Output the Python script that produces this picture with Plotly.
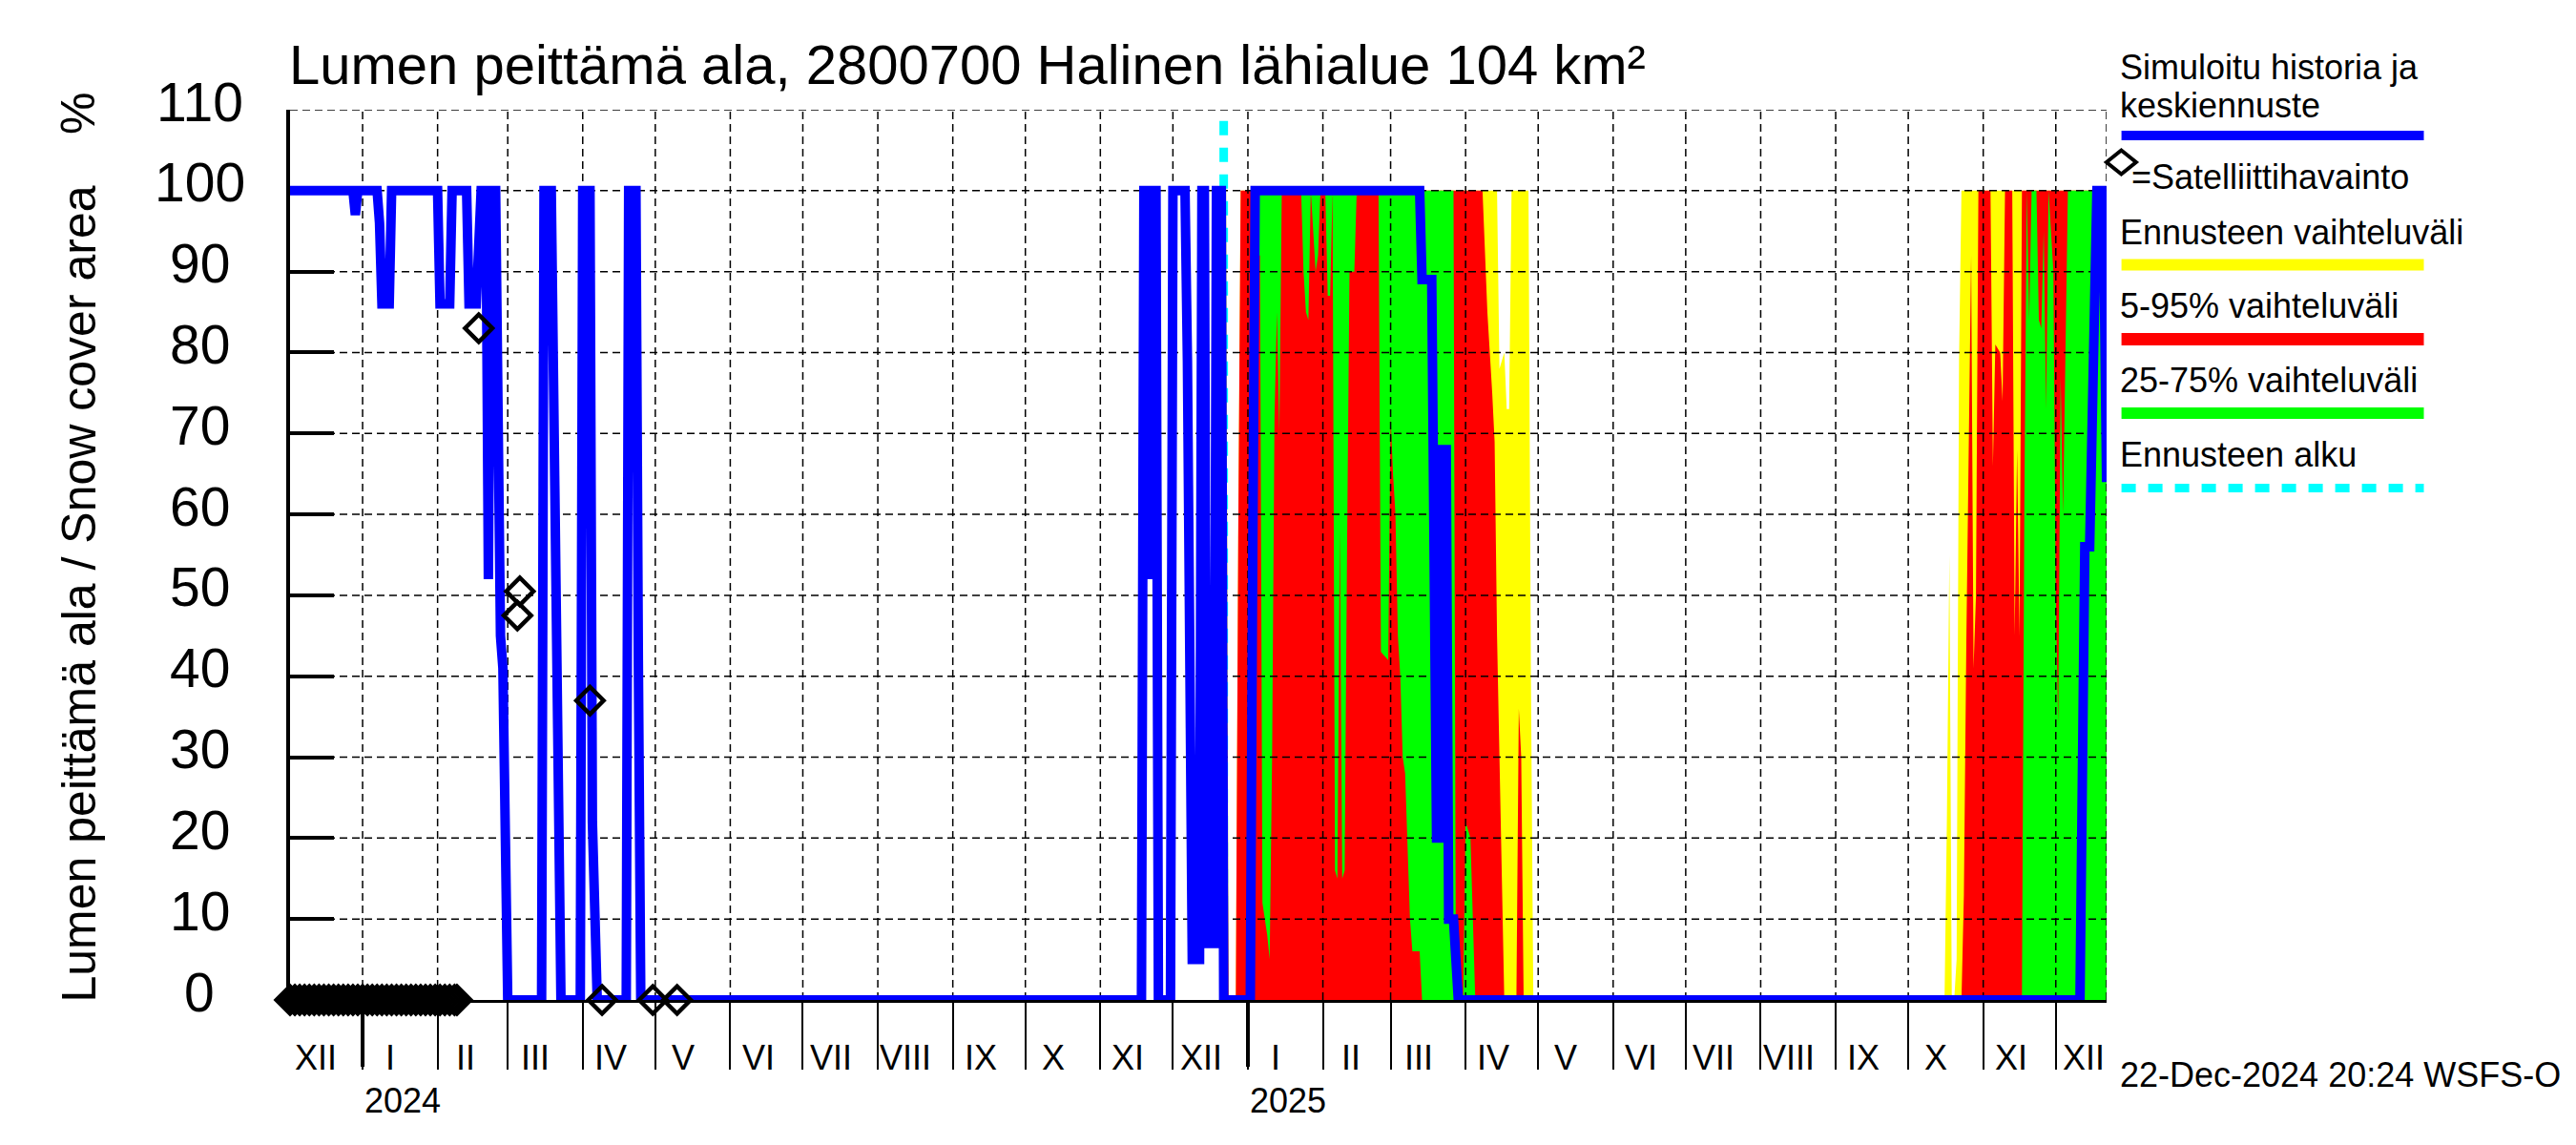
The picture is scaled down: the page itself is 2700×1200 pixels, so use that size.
import plotly.graph_objects as go
import pandas as pd

# ---------------- data ----------------
# simulated history (blue)
hist_dates = ["2023-12-02", "2023-12-28", "2023-12-29", "2023-12-30", "2024-01-07", "2024-01-08",
              "2024-01-09", "2024-01-12", "2024-01-13", "2024-02-01", "2024-02-02", "2024-02-06",
              "2024-02-07", "2024-02-13", "2024-02-14", "2024-02-17", "2024-02-19", "2024-02-21",
              "2024-02-22", "2024-02-23", "2024-02-25", "2024-02-26", "2024-02-27", "2024-02-28",
              "2024-03-01", "2024-03-15", "2024-03-16", "2024-03-19", "2024-03-23", "2024-03-31",
              "2024-04-01", "2024-04-04", "2024-04-05", "2024-04-07", "2024-04-19", "2024-04-20",
              "2024-04-23", "2024-04-24", "2024-04-25", "2024-11-18", "2024-11-19", "2024-11-21",
              "2024-11-22", "2024-11-23", "2024-11-24", "2024-11-25", "2024-11-30", "2024-12-01",
              "2024-12-06", "2024-12-07", "2024-12-08", "2024-12-09", "2024-12-12", "2024-12-13",
              "2024-12-14", "2024-12-15", "2024-12-18", "2024-12-19", "2024-12-21", "2024-12-22"]
hist_vals = [100, 100, 97, 100, 100, 96, 86, 86, 100, 100,
             86, 86, 100, 100, 86, 86, 100, 100, 52, 100,
             100, 52, 45, 41, 0, 0, 100, 100, 0, 0,
             100, 100, 22, 0, 0, 100, 100, 42, 0, 0,
             100, 100, 52, 100, 100, 0, 0, 100, 100, 79,
             36, 5, 5, 100, 100, 7, 7, 100, 100, 0]

# forecast median (blue)
fc_med_dates = ["2024-12-22", "2025-01-02", "2025-01-03", "2025-01-04", "2025-03-13", "2025-03-14",
                "2025-03-18", "2025-03-20", "2025-03-21", "2025-03-22", "2025-03-24", "2025-03-25",
                "2025-03-27", "2025-03-29", "2025-12-11", "2025-12-12", "2025-12-13", "2025-12-15",
                "2025-12-16", "2025-12-17", "2025-12-18", "2025-12-20", "2025-12-21", "2025-12-22"]
fc_med_vals = [0, 0, 55, 100, 100, 89, 89, 20, 20, 68, 68, 10,
               10, 0, 0, 19, 56, 56, 75, 94, 100, 100, 90, 64]

# forecast range min..max (yellow)
yellow_dates = ["2024-12-22", "2024-12-23", "2024-12-24", "2024-12-27", "2024-12-28", "2024-12-29",
                "2025-04-14", "2025-04-15", "2025-04-17", "2025-04-18", "2025-04-19", "2025-04-20",
                "2025-04-27", "2025-04-28", "2025-04-29", "2025-10-16", "2025-10-17", "2025-10-18",
                "2025-10-19", "2025-10-20", "2025-10-21", "2025-10-22", "2025-10-23", "2025-12-22"]
yellow_lo = [0, 0, 0, 0, 0, 0, 0, 0, 0, 0, 0, 0,
             0, 0, 0, 0, 0, 0, 0, 0, 0, 0, 0, 0]
yellow_hi = [100, 100, 0, 0, 57, 100, 100, 78, 80, 73, 73, 100,
             100, 40, 0, 0, 23, 55, 0, 0, 5, 79, 100, 100]

# 5-95 % range (red)
red_dates = ["2024-12-22", "2024-12-23", "2024-12-24", "2024-12-27", "2024-12-28", "2024-12-29",
             "2025-04-08", "2025-04-09", "2025-04-10", "2025-04-12", "2025-04-13", "2025-04-14",
             "2025-04-15", "2025-04-16", "2025-04-17", "2025-04-22", "2025-04-23", "2025-04-24",
             "2025-04-25", "2025-10-23", "2025-10-24", "2025-10-25", "2025-10-26", "2025-10-27",
             "2025-10-28", "2025-10-29", "2025-10-30", "2025-11-04", "2025-11-05", "2025-11-06",
             "2025-11-08", "2025-11-09", "2025-11-10", "2025-11-13", "2025-11-14", "2025-11-15",
             "2025-11-16", "2025-11-17", "2025-12-22"]
red_lo = [0, 0, 0, 0, 0, 0, 0, 0, 0, 0, 0, 0, 0,
          0, 0, 0, 0, 0, 0, 0, 0, 0, 0, 0, 0, 0,
          0, 0, 0, 0, 0, 0, 0, 0, 0, 0, 0, 0, 0]
red_hi = [53, 53, 0, 0, 57, 100, 100, 92, 85, 75, 69, 45, 30,
          15, 0, 0, 36, 30, 0, 0, 13, 44, 66, 92, 41, 50,
          100, 100, 66, 81, 80, 74, 100, 100, 45, 68, 45, 100, 100]

# 25-75 % range (green)
green_dates = ["2024-12-22", "2025-01-02", "2025-01-03", "2025-01-04", "2025-01-05", "2025-01-06",
               "2025-01-07", "2025-01-09", "2025-01-10", "2025-01-11", "2025-01-12", "2025-01-13",
               "2025-01-14", "2025-01-15", "2025-01-23", "2025-01-24", "2025-01-25", "2025-01-26",
               "2025-01-27", "2025-01-28", "2025-01-29", "2025-01-30", "2025-01-31", "2025-02-02",
               "2025-02-03", "2025-02-04", "2025-02-05", "2025-02-06", "2025-02-07", "2025-02-08",
               "2025-02-09", "2025-02-10", "2025-02-11", "2025-02-12", "2025-02-14", "2025-02-15",
               "2025-02-24", "2025-02-25", "2025-02-28", "2025-03-01", "2025-03-02", "2025-03-03",
               "2025-03-04", "2025-03-05", "2025-03-06", "2025-03-07", "2025-03-08", "2025-03-09",
               "2025-03-10", "2025-03-13", "2025-03-14", "2025-03-27", "2025-03-28", "2025-03-31",
               "2025-04-01", "2025-04-03", "2025-04-04", "2025-04-05", "2025-11-17", "2025-11-18",
               "2025-11-19", "2025-11-20", "2025-11-21", "2025-11-23", "2025-11-24", "2025-11-25",
               "2025-11-26", "2025-11-27", "2025-11-28", "2025-11-30", "2025-12-01", "2025-12-02",
               "2025-12-03", "2025-12-04", "2025-12-05", "2025-12-06", "2025-12-22"]
green_lo = [0, 0, 17, 17, 92, 92, 12, 8, 5, 30, 72, 85,
            70, 100, 100, 90, 85, 84, 100, 95, 90, 92, 100, 100,
            87, 87, 100, 16, 15, 58, 15, 16, 56, 90, 90, 100,
            100, 43, 42, 72, 65, 60, 45, 40, 30, 28, 20, 10,
            6, 6, 0, 0, 0, 0, 0, 0, 0, 0, 0, 0,
            0, 0, 0, 0, 0, 0, 0, 0, 0, 0, 0, 0,
            0, 0, 0, 0, 0]
green_hi = [0, 0, 100, 100, 100, 100, 100, 100, 100, 100, 100, 100,
            100, 100, 100, 100, 100, 100, 100, 100, 100, 100, 100, 100,
            100, 100, 100, 100, 100, 100, 100, 100, 100, 100, 100, 100,
            100, 100, 100, 100, 100, 100, 100, 100, 100, 100, 100, 100,
            100, 100, 100, 100, 0, 0, 22, 20, 10, 0, 0, 61,
            100, 84, 100, 100, 84, 83, 95, 73, 100, 90, 50, 34,
            77, 60, 80, 100, 100]

# satellite observations (diamonds)
sat_dates = ["2023-12-02", "2023-12-04", "2023-12-06", "2023-12-08", "2023-12-10", "2023-12-12",
             "2023-12-14", "2023-12-16", "2023-12-18", "2023-12-20", "2023-12-22", "2023-12-24",
             "2023-12-26", "2023-12-28", "2023-12-30", "2024-01-01", "2024-01-03", "2024-01-05",
             "2024-01-07", "2024-01-09", "2024-01-11", "2024-01-13", "2024-01-15", "2024-01-17",
             "2024-01-19", "2024-01-21", "2024-01-23", "2024-01-25", "2024-01-27", "2024-01-29",
             "2024-01-31", "2024-02-02", "2024-02-04", "2024-02-06", "2024-02-08", "2024-02-09",
             "2024-02-18", "2024-03-05", "2024-03-06", "2024-04-04", "2024-04-09", "2024-04-30",
             "2024-05-10"]
sat_vals = [0, 0, 0, 0, 0, 0, 0, 0, 0, 0, 0, 0,
            0, 0, 0, 0, 0, 0, 0, 0, 0, 0, 0, 0,
            0, 0, 0, 0, 0, 0, 0, 0, 0, 0, 0, 0,
            83, 47.5, 50.5, 37, 0, 0, 0]

# axes
x_range = ["2023-12-02", "2025-12-22"]
fc_start = "2024-12-22"
month_label_starts = ["2023-12-01", "2024-01-01", "2024-02-01", "2024-03-01", "2024-04-01",
                      "2024-05-01", "2024-06-01", "2024-07-01", "2024-08-01", "2024-09-01",
                      "2024-10-01", "2024-11-01", "2024-12-01", "2025-01-01", "2025-02-01",
                      "2025-03-01", "2025-04-01", "2025-05-01", "2025-06-01", "2025-07-01",
                      "2025-08-01", "2025-09-01", "2025-10-01", "2025-11-01", "2025-12-01"]
month_labels = ["XII", "I", "II", "III", "IV", "V", "VI", "VII", "VIII", "IX", "X", "XI", "XII",
                "I", "II", "III", "IV", "V", "VI", "VII", "VIII", "IX", "X", "XI", "XII"]
year_starts = ["2024-01-01", "2025-01-01"]
year_labels = ["2024", "2025"]
y_ticks = [0, 10, 20, 30, 40, 50, 60, 70, 80, 90, 100, 110]

title_text = "Lumen peittämä ala, 2800700 Halinen lähialue 104 km²"
ylabel_text = "Lumen peittämä ala / Snow cover area"
stamp_text = "22-Dec-2024 20:24 WSFS-O"

for a, b in [(hist_dates, hist_vals), (fc_med_dates, fc_med_vals), (yellow_dates, yellow_hi),
             (yellow_dates, yellow_lo), (red_dates, red_hi), (red_dates, red_lo),
             (green_dates, green_lo), (green_dates, green_hi), (sat_dates, sat_vals),
             (month_label_starts, month_labels)]:
    assert len(a) == len(b), (len(a), len(b))

# ---------------- styles / layout geometry ----------------
FONT = "Liberation Sans, Arial, Helvetica, sans-serif"
W, H = 2700, 1200
L, R, T, B = 304, 2208, 115, 1048
BLUE, YELLOW, RED, GREEN, CYAN = "#0000FF", "#FFFF00", "#FF0000", "#00FF00", "#00FFFF"
fc_line_top = 108.6


def fx(px):
    return (px - L) / (R - L)


def fy(py):
    return (B - py) / (B - T)


fig = go.Figure()


def band(dates, lo, hi, color):
    fig.add_trace(go.Scatter(
        x=list(dates) + list(dates)[::-1],
        y=list(hi) + list(lo)[::-1],
        mode="lines", fill="toself", fillcolor=color,
        line=dict(width=0, color=color), hoverinfo="skip"))


band(yellow_dates, yellow_lo, yellow_hi, YELLOW)
band(red_dates, red_lo, red_hi, RED)
band(green_dates, green_lo, green_hi, GREEN)

# dashed grid drawn above the bands, below the lines
month_starts = month_label_starts[1:]
gx, gy = [], []
for t in y_ticks[1:]:
    gx += [x_range[0], x_range[1], None]
    gy += [t, t, None]
for m in month_starts + [x_range[1]]:
    gx += [m, m, None]
    gy += [y_ticks[0], y_ticks[-1], None]
fig.add_trace(go.Scatter(x=gx, y=gy, mode="lines", hoverinfo="skip",
                         line=dict(color="black", width=1.5, dash="8px,5px")))

# forecast start
fig.add_trace(go.Scatter(x=[fc_start, fc_start], y=[fc_line_top, y_ticks[0]], mode="lines",
                         hoverinfo="skip", line=dict(color=CYAN, width=9, dash="15px,13px")))

# simulated history + median forecast
fig.add_trace(go.Scatter(x=hist_dates, y=hist_vals, mode="lines", cliponaxis=False,
                         line=dict(color=BLUE, width=10)))
fig.add_trace(go.Scatter(x=fc_med_dates, y=fc_med_vals, mode="lines", cliponaxis=False,
                         line=dict(color=BLUE, width=10)))

# satellite observations
fig.add_trace(go.Scatter(x=sat_dates, y=sat_vals, mode="markers", cliponaxis=False,
                         marker=dict(symbol="diamond-open", size=22, color="black",
                                     line=dict(width=4.5, color="black"))))

fig.update_xaxes(type="date", range=x_range, tickvals=month_starts, ticks="outside",
                 ticklen=70, tickwidth=1.5, tickcolor="black", showticklabels=False,
                 showgrid=False, zeroline=False, showline=True, linecolor="black",
                 linewidth=3, layer="below traces")
fig.update_yaxes(range=[y_ticks[0], y_ticks[-1]], tickvals=y_ticks, ticks="inside",
                 ticklen=46, tickwidth=4, tickcolor="black", showticklabels=False,
                 showgrid=False, zeroline=False, showline=True, linecolor="black",
                 linewidth=4, layer="below traces")

shapes = []
for ys in year_starts:
    shapes.append(dict(type="line", xref="x", yref="paper", x0=ys, x1=ys,
                       y0=fy(B), y1=fy(1118), line=dict(color="black", width=4)))

ann = []


def text(x, y, s, size, xanchor="left", xref="paper", yref="paper", **kw):
    ann.append(dict(x=x, y=y, xref=xref, yref=yref, text=s, showarrow=False,
                    xanchor=xanchor, yanchor="middle", borderpad=0,
                    font=dict(family=FONT, size=size, color="black"), **kw))


# title
text(fx(302), fy(67.5), title_text, 58)
# y tick labels (centred, as in the reference)
for t in y_ticks:
    text(fx(209), t, str(t), 57, xanchor="center", yref="y", yshift=8.5)
# y title
text(fx(82), fy(622.5), ylabel_text, 50, xanchor="center", textangle=-90)
text(fx(82), fy(119), "%", 50, xanchor="center", textangle=-90)
# month labels
for ms, lab in zip(month_label_starts, month_labels):
    xm = (pd.Timestamp(ms) + pd.Timedelta(hours=11.5 * 24)).strftime("%Y-%m-%d %H:%M")
    text(xm, fy(1108), lab, 36, xanchor="center", xref="x")
# year labels
for ys, lab in zip(year_starts, year_labels):
    xm = (pd.Timestamp(ys) + pd.Timedelta(hours=16.5 * 24)).strftime("%Y-%m-%d %H:%M")
    text(xm, fy(1153), lab, 36, xanchor="center", xref="x")
# time stamp
text(fx(2221), fy(1126.7), stamp_text, 36)

# legend
LX0, LX1 = 2223.6, 2540.5
text(fx(2221), fy(70), "Simuloitu historia ja", 36)
text(fx(2221), fy(110.5), "keskiennuste", 36)
shapes.append(dict(type="line", xref="paper", yref="paper", x0=fx(LX0), x1=fx(LX1),
                   y0=fy(142), y1=fy(142), line=dict(color=BLUE, width=10)))
cx, cy, hw, hh = 2223.4, 170, 15.5, 12.5
shapes.append(dict(type="path", xref="paper", yref="paper",
                   path="M{},{} L{},{} L{},{} L{},{} Z".format(
                       fx(cx - hw), fy(cy), fx(cx), fy(cy - hh),
                       fx(cx + hw), fy(cy), fx(cx), fy(cy + hh)),
                   line=dict(color="black", width=4)))
text(fx(2233), fy(185), "=Satelliittihavainto", 36)
text(fx(2221), fy(243.5), "Ennusteen vaihteluväli", 36)
shapes.append(dict(type="line", xref="paper", yref="paper", x0=fx(LX0), x1=fx(LX1),
                   y0=fy(277.5), y1=fy(277.5), line=dict(color=YELLOW, width=12)))
text(fx(2221), fy(320.5), "5-95% vaihteluväli", 36)
shapes.append(dict(type="line", xref="paper", yref="paper", x0=fx(LX0), x1=fx(LX1),
                   y0=fy(355.5), y1=fy(355.5), line=dict(color=RED, width=13)))
text(fx(2221), fy(398.5), "25-75% vaihteluväli", 36)
shapes.append(dict(type="line", xref="paper", yref="paper", x0=fx(LX0), x1=fx(LX1),
                   y0=fy(433), y1=fy(433), line=dict(color=GREEN, width=12)))
text(fx(2221), fy(476.5), "Ennusteen alku", 36)
shapes.append(dict(type="line", xref="paper", yref="paper", x0=fx(LX0), x1=fx(LX1),
                   y0=fy(511.5), y1=fy(511.5), line=dict(color=CYAN, width=9, dash="15px,13px")))

fig.update_layout(width=W, height=H, margin=dict(l=L, r=W - R, t=T, b=H - B, pad=0),
                  paper_bgcolor="white", plot_bgcolor="white", showlegend=False,
                  font=dict(family=FONT, color="black"),
                  shapes=shapes, annotations=ann)

fig.write_html("out.html", config={"displayModeBar": False},
               post_script="document.body.style.margin='0';document.body.style.overflow='hidden';")
